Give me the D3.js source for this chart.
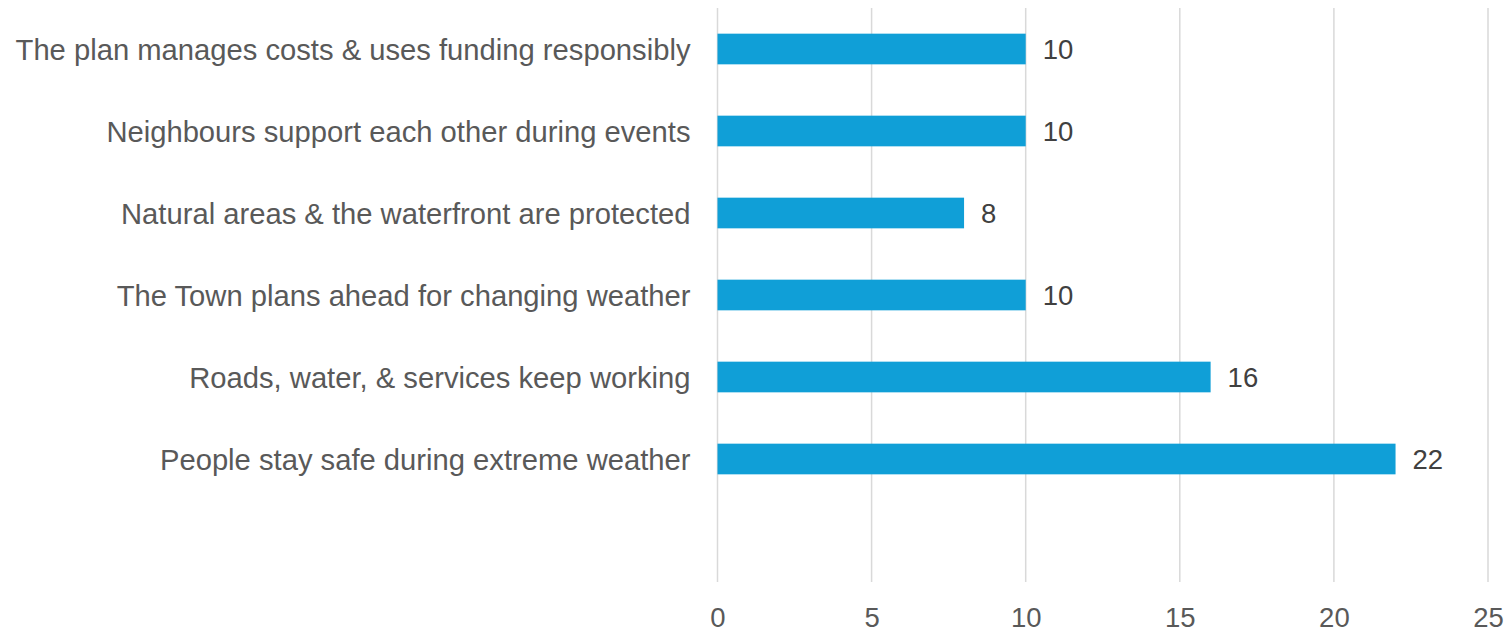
<!DOCTYPE html>
<html>
<head>
<meta charset="utf-8">
<script src="https://cdn.jsdelivr.net/npm/d3@7"></script>
<style>
  body { margin: 0; background: #fff; }
  text { font-family: "Liberation Sans", Arial, sans-serif; }
</style>
</head>
<body>
<div id="chart"></div>
<script>
// categories top to bottom, last slot is empty in the original
var categories = [
  "The plan manages costs & uses funding responsibly",
  "Neighbours support each other during events",
  "Natural areas & the waterfront are protected",
  "The Town plans ahead for changing weather",
  "Roads, water, & services keep working",
  "People stay safe during extreme weather",
  ""
];
var values = [10, 10, 8, 10, 16, 22];
var tickValues = [0, 5, 10, 15, 20, 25];

var width = 1506, height = 633;
var margin = {top: 8, right: 18, bottom: 51, left: 717.5};

var svg = d3.select("#chart").append("svg")
    .attr("width", width)
    .attr("height", height);

var x = d3.scaleLinear()
    .domain([0, 25])
    .range([margin.left, width - margin.right]);

var y = d3.scaleBand()
    .domain(d3.range(categories.length))
    .range([margin.top, height - margin.bottom])
    .paddingInner(0.626)
    .paddingOuter(0.313);

// gridlines
svg.append("g")
    .selectAll("line")
    .data(tickValues)
    .enter()
    .append("line")
    .attr("x1", function(d){ return x(d); })
    .attr("x2", function(d){ return x(d); })
    .attr("y1", margin.top)
    .attr("y2", height - margin.bottom)
    .attr("stroke", "#d9d9d9")
    .attr("stroke-width", 1.5);

// x axis labels
var xAxis = d3.axisBottom(x).tickValues(tickValues).tickSize(0).tickPadding(0);
var gx = svg.append("g")
    .attr("transform", "translate(0," + (height - margin.bottom) + ")")
    .call(xAxis);
gx.select(".domain").remove();
gx.selectAll("text")
    .attr("dy", null)
    .attr("y", 45)
    .style("font-size", "27.5px")
    .attr("fill", "#595959");

// bars
svg.append("g")
    .selectAll("rect")
    .data(values)
    .enter()
    .append("rect")
    .attr("x", x(0))
    .attr("y", function(d, i){ return y(i); })
    .attr("width", function(d){ return x(d) - x(0); })
    .attr("height", y.bandwidth())
    .attr("fill", "#109fd7");

// value labels
svg.append("g")
    .selectAll("text")
    .data(values)
    .enter()
    .append("text")
    .attr("x", function(d){ return x(d) + 17; })
    .attr("y", function(d, i){ return y(i) + y.bandwidth() / 2; })
    .attr("dy", "0.36em")
    .style("font-size", "27.5px")
    .attr("fill", "#404040")
    .text(function(d){ return d; });

// category labels
svg.append("g")
    .selectAll("text")
    .data(categories)
    .enter()
    .append("text")
    .attr("x", margin.left - 27)
    .attr("y", function(d, i){ return y(i) + y.bandwidth() / 2; })
    .attr("dy", "0.36em")
    .attr("text-anchor", "end")
    .style("font-size", "29.2px")
    .attr("fill", "#595959")
    .text(function(d){ return d; });
</script>
</body>
</html>
